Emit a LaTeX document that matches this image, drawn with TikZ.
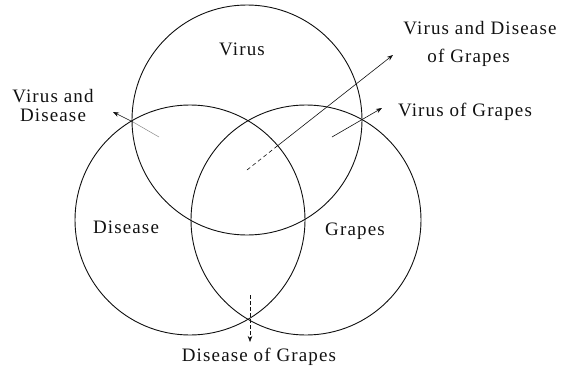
\documentclass[tikz,border=0pt]{standalone}
\usepackage{fontspec}
\setmainfont{Liberation Serif}[LetterSpace=6]
\usetikzlibrary{positioning,arrows.meta}
\definecolor{ink}{HTML}{111111}
\definecolor{inkmute}{HTML}{8A8A8A}

\begin{document}
\begin{tikzpicture}[x=1pt, y=-1pt,
  every node/.style={font=\fontsize{19}{22}\selectfont, color=ink},
  setc/.style={circle, draw=ink, line width=0.9pt, minimum size=230pt, inner sep=0pt},
  lab/.style={inner sep=1pt, align=center},
  arr/.style={->, >={Stealth[length=6pt,width=4.5pt]}, draw=ink, line width=0.6pt}
]
\useasboundingbox (0,0) rectangle (571,373);

% Sets
\node[setc] (virus)   at (247,120) {};
\node[setc] (disease) at (190,220) {};
\node[setc] (grapes)  at (306,220) {};

% Set names
\node[lab] (virus-lab)   at (242,49)  {Virus};
\node[lab] (disease-lab) at (126,227) {Disease};
\node[lab] (grapes-lab)  at (355,231) {Grapes};

% Overlap names
\node[lab] (vd-lab)  at (53,105)  {Virus and\\[-3pt]Disease};
\node[lab, align=left] (vdg-lab) at (480,44) {Virus and Disease\\[6pt]\hspace*{24pt}of Grapes};
\node[lab] (vg-lab)  at (465,112) {Virus of Grapes};
\node[lab] (dg-lab)  at (259,357) {Disease of Grapes};

% Arrow ends
\coordinate (vd-tail)  at (159,137);
\coordinate (vd-mid)   at (133,122);
\coordinate (vd-tip)   at (113,112);
\coordinate (all-tail) at (247,170);
\coordinate (all-mid)  at (276,147);
\coordinate (all-tip)  at (393,55);
\coordinate (vg-tail)  at (332,137);
\coordinate (vg-tip)   at (382,108);
\coordinate (dg-tail)  at (250,295);
\coordinate (dg-tip)   at (250,342);

% Arrows
\draw[draw=inkmute, line width=0.5pt] (vd-tail) -- (vd-mid);
\draw[arr] (vd-mid) -- (vd-tip);
\draw[draw=ink, line width=0.6pt, dash pattern=on 4pt off 3pt] (all-tail) -- (all-mid);
\draw[arr] (all-mid) -- (all-tip);
\draw[arr] (vg-tail) -- (vg-tip);
\draw[arr, dash pattern=on 4pt off 2pt] (dg-tail) -- (dg-tip);

\end{tikzpicture}
\end{document}
